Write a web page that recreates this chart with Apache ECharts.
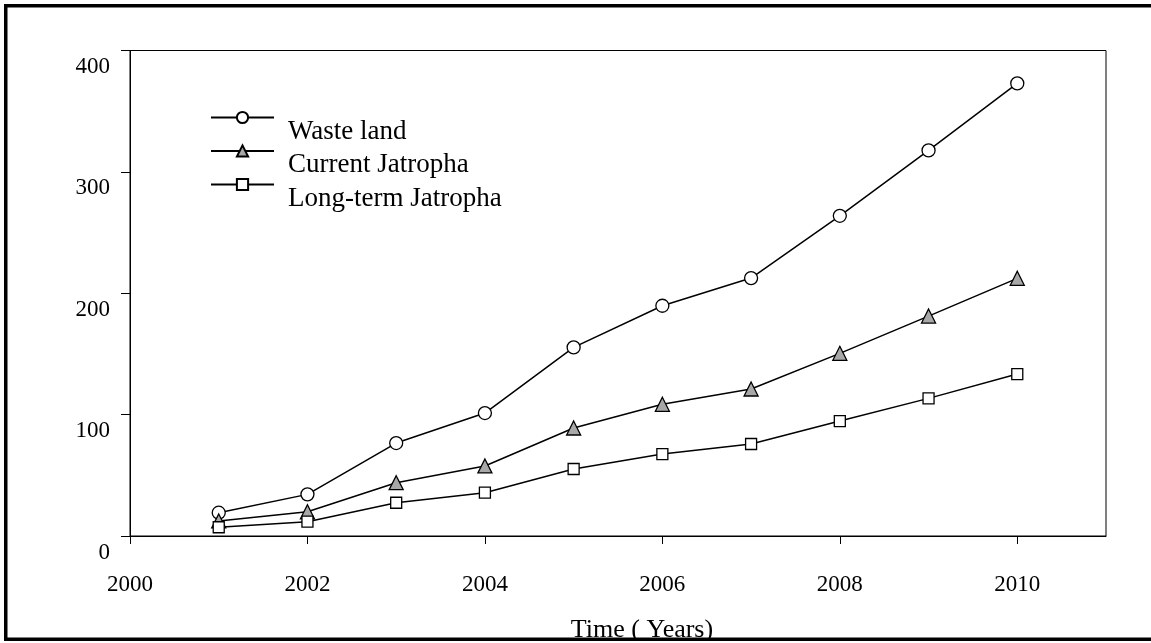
<!DOCTYPE html>
<html>
<head>
<meta charset="utf-8">
<script src="https://cdn.jsdelivr.net/npm/echarts@6/dist/echarts.min.js"></script>
<style>
html,body{margin:0;padding:0;background:#fff;}
#chart{width:1151px;height:643px;}
</style>
</head>
<body>
<div id="chart"></div>
<script>
const years = [2001, 2002, 2003, 2004, 2005, 2006, 2007, 2008, 2009, 2010];
const wasteLand = [19.2, 34.3, 76.6, 101.3, 155.4, 189.7, 212.5, 263.8, 317.7, 372.9];
const currentJatropha = [12.4, 20.0, 43.9, 57.7, 89.0, 108.5, 121.1, 150.5, 181.2, 212.3];
const longTermJatropha = [7.2, 11.8, 27.4, 35.7, 55.2, 67.5, 75.8, 94.7, 113.4, 133.4];
const xTicks = [2000, 2002, 2004, 2006, 2008, 2010];
const yTicks = [0, 100, 200, 300, 400];
const seriesNames = ['Waste land', 'Current Jatropha', 'Long-term Jatropha'];
const xTitle = 'Time ( Years)';

const font = 'Liberation Serif';
const pair = (vals) => years.map((y, i) => [y, vals[i]]);

const chart = echarts.init(document.getElementById('chart'), null, {renderer: 'canvas'});

function mkSeries(name, vals, symbol, size, fill) {
  return {
    name: name,
    type: 'line',
    data: pair(vals),
    symbol: symbol,
    symbolSize: size,
    showAllSymbol: true,
    lineStyle: {color: '#000', width: 1.5},
    itemStyle: {color: fill, borderColor: '#000', borderWidth: 1.3},
    emphasis: {disabled: true},
    animation: false,
    z: 3
  };
}

const option = {
  backgroundColor: '#fff',
  animation: false,
  grid: {
    left: 130, right: 45, top: 50.5, bottom: 107,
    outerBoundsMode: 'none',
    containLabel: false,
    show: true, borderColor: '#000', borderWidth: 1, backgroundColor: 'transparent'
  },
  legend: {
    orient: 'vertical',
    left: 210,
    top: 90,
    padding: 0,
    itemWidth: 63,
    itemHeight: 14,
    itemGap: -21.5,
    data: seriesNames,
    formatter: (n) => '{t|' + n + '}',
    textStyle: {
      fontFamily: font, fontSize: 27, color: '#000',
      rich: {t: {fontFamily: font, fontSize: 27, color: '#000', lineHeight: 22, padding: [28, 0, 0, 9]}}
    },
    selectedMode: false
  },
  xAxis: {
    type: 'value',
    min: 2000, max: 2011, interval: 2,
    splitLine: {show: false},
    axisLine: {show: true, onZero: false, lineStyle: {color: '#000', width: 1}},
    axisTick: {show: true, length: 8, inside: false, lineStyle: {color: '#000', width: 1}, customValues: xTicks},
    axisLabel: {fontFamily: font, fontSize: 23, color: '#000', margin: 37, customValues: xTicks,
      formatter: (v) => String(v)},
    name: xTitle,
    nameLocation: 'middle',
    nameGap: 81,
    nameTextStyle: {fontFamily: font, fontSize: 26, color: '#000', padding: [0, 0, 0, 48]}
  },
  yAxis: {
    type: 'value',
    min: 0, max: 400, interval: 100,
    splitLine: {show: false},
    axisLine: {show: true, lineStyle: {color: '#000', width: 1}},
    axisTick: {show: true, length: 9, inside: false, lineStyle: {color: '#000', width: 1}, customValues: yTicks},
    axisLabel: {fontFamily: font, fontSize: 23, color: '#000', margin: 20, customValues: yTicks,
      verticalAlign: 'top', lineHeight: 33}
  },
  series: [
    mkSeries(seriesNames[0], wasteLand, 'circle', 13, '#fff'),
    mkSeries(seriesNames[1], currentJatropha, 'triangle', 14, '#a8a8a8'),
    mkSeries(seriesNames[2], longTermJatropha, 'rect', 11, '#fff')
  ],
  graphic: [
    {type: 'rect', shape: {x: 4, y: 4, width: 3.5, height: 637}, style: {fill: '#000'}, z: 100, silent: true},
    {type: 'rect', shape: {x: 4, y: 4, width: 1147, height: 3.5}, style: {fill: '#000'}, z: 100, silent: true},
    {type: 'rect', shape: {x: 4, y: 637.5, width: 1147, height: 3.5}, style: {fill: '#000'}, z: 100, silent: true},
    {type: 'rect', shape: {x: 4, y: 641, width: 1147, height: 2}, style: {fill: '#fff'}, z: 100, silent: true}
  ]
};
chart.setOption(option);
</script>
</body>
</html>
